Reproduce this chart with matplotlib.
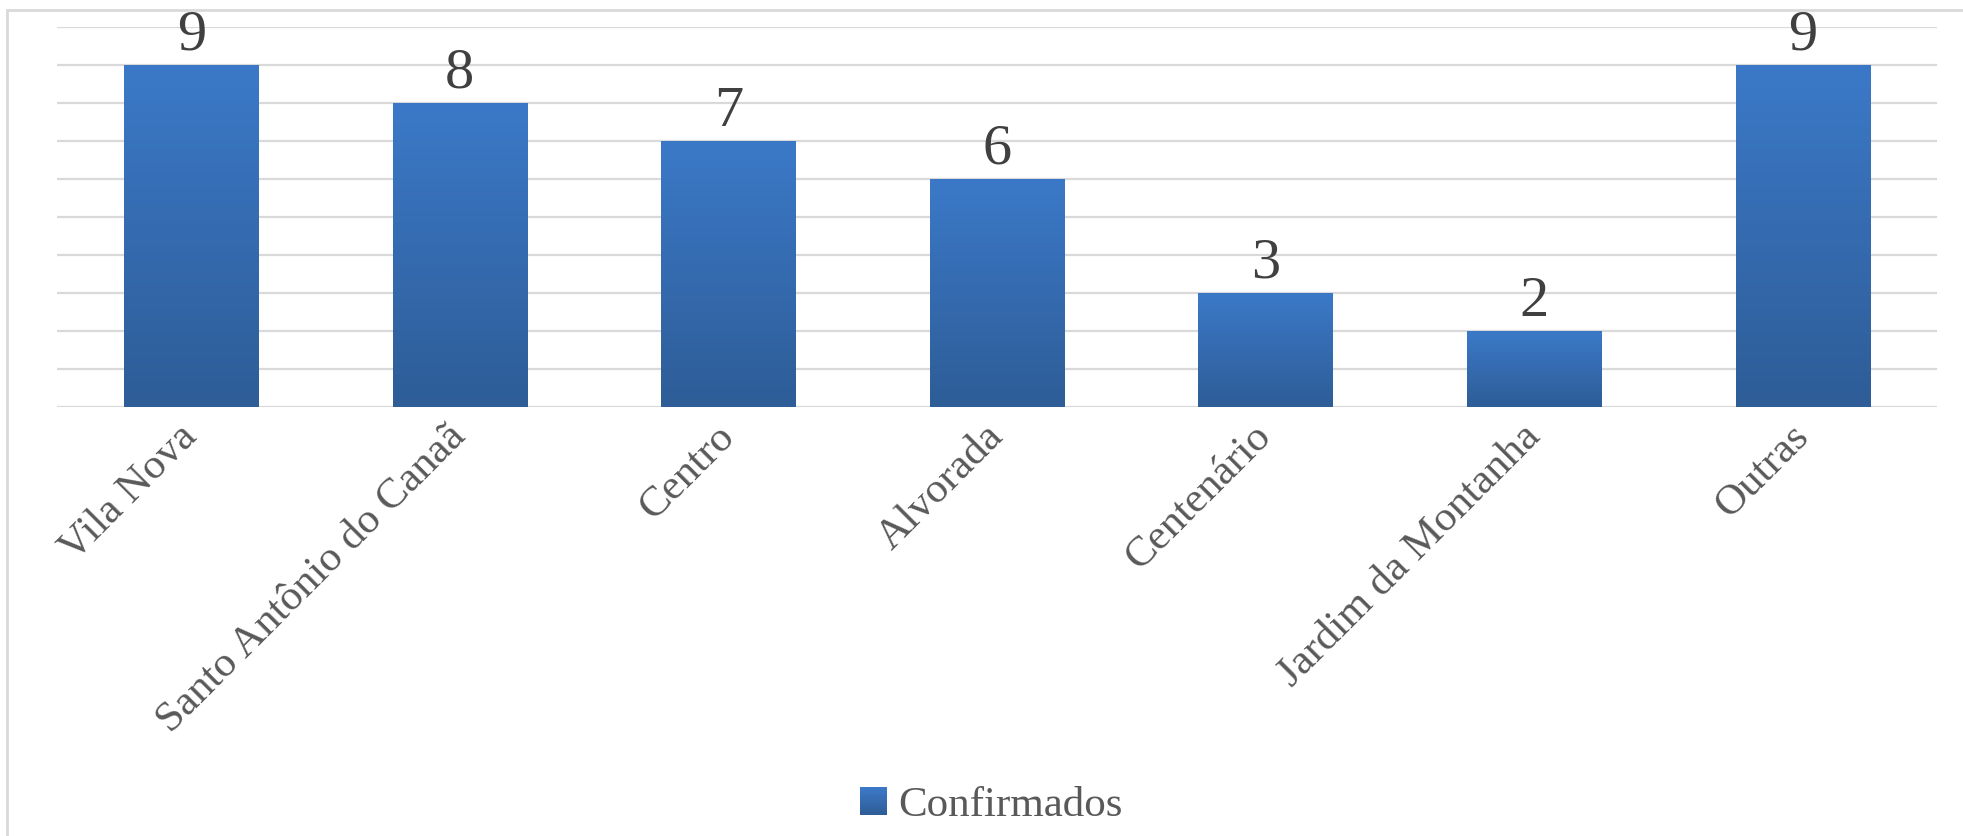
import numpy as np
import matplotlib
matplotlib.use("Agg")
import matplotlib.pyplot as plt
from matplotlib.patches import Rectangle
from matplotlib.legend_handler import HandlerBase
from matplotlib.colors import LinearSegmentedColormap
from matplotlib.lines import Line2D

categories = ["Vila Nova", "Santo Antônio do Canaã", "Centro", "Alvorada",
              "Centenário", "Jardim da Montanha", "Outras"]
values = [9, 8, 7, 6, 3, 2, 9]
series_name = "Confirmados"

TOP_COLOR = "#3B79C8"
BOT_COLOR = "#2E5D97"
cmap = LinearSegmentedColormap.from_list("grad", [BOT_COLOR, TOP_COLOR])

plt.rcParams['font.family'] = ['Liberation Serif', 'DejaVu Serif']

W, H = 1963, 836
fig = plt.figure(figsize=(W / 100, H / 100), dpi=100)
fig.patch.set_facecolor("white")

# chart-area border (left and top visible)
fig.add_artist(Rectangle((7 / W, -0.1), 2.0, 1.1 - 10 / H + 0.0,
                         transform=fig.transFigure, fill=False,
                         edgecolor="#D9D9D9", linewidth=2.0))

x0, x1 = 57 / W, 1937 / W
yb, yt = 1 - 406.7 / H, 1 - 26.7 / H
ax = fig.add_axes([x0, yb, x1 - x0, yt - yb])

x = np.arange(len(categories))
bars = ax.bar(x, values, width=0.5, color=TOP_COLOR, zorder=2, linewidth=0)

ax.set_xlim(-0.5, len(categories) - 0.5)
ax.set_ylim(0, 10)
ax.set_yticks(np.arange(0, 11, 1))
ax.yaxis.grid(True, color="#D9D9D9", linewidth=1.6, zorder=0)
ax.set_axisbelow(True)
for s in ax.spines.values():
    s.set_visible(False)
ax.tick_params(axis="y", left=False, labelleft=False)
ax.tick_params(axis="x", bottom=False, pad=14)
ax.set_xticks(x)
ax.set_xticklabels(categories, rotation=45, ha="right", va="center",
                   rotation_mode="anchor", fontsize=31, color="#595959")

# gradient fill for each bar
grad = np.linspace(0, 1, 256).reshape(-1, 1)
for b in bars:
    bx, by = b.get_x(), b.get_y()
    bw, bh = b.get_width(), b.get_height()
    im = ax.imshow(grad, cmap=cmap, aspect="auto", origin="lower",
                   extent=[bx, bx + bw, by, by + bh], zorder=3,
                   interpolation="bilinear")
    im.set_clip_path(b)
    b.set_facecolor("none")
ax.set_xlim(-0.5, len(categories) - 0.5)
ax.set_ylim(0, 10)

ax.bar_label(bars, labels=[str(v) for v in values], padding=2,
             fontsize=42, color="#404040", zorder=4)


class GradHandler(HandlerBase):
    def create_artists(self, legend, orig_handle, xdescent, ydescent,
                       width, height, fontsize, trans):
        arts = []
        n = 20
        for i in range(n):
            c = cmap(i / (n - 1))
            r = Rectangle((-xdescent, -ydescent + height * i / n), width,
                          height / n + 0.3, facecolor=c, edgecolor="none",
                          transform=trans)
            arts.append(r)
        return arts


proxy = Rectangle((0, 0), 1, 1, facecolor=TOP_COLOR)
fig.legend([proxy], [series_name], loc="center",
           bbox_to_anchor=(991 / W, 1 - 806 / H),
           handler_map={Rectangle: GradHandler()},
           frameon=False, fontsize=31, labelcolor="#595959",
           handlelength=0.63, handleheight=0.63, handletextpad=0.25,
           borderpad=0)

fig.savefig("out.png", dpi=100, facecolor="white")
